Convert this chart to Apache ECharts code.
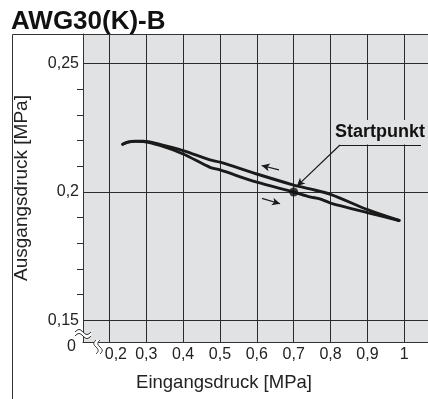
<!DOCTYPE html>
<html>
<head>
<meta charset="utf-8">
<script src="https://cdn.jsdelivr.net/npm/echarts@6/dist/echarts.min.js"></script>
<style>
  html, body { margin: 0; padding: 0; background: #ffffff; }
  #chart { width: 428px; height: 399px; }
</style>
</head>
<body>
<div id="chart"></div>
<script>
// Axis ranges (the lower ends stand for the broken "0" origin)
const X_MIN = 0.1284, X_MAX = 1.0643;
const Y_MIN = 0.1416, Y_MAX = 0.2615;

// Tick values and labels
const xTicks = [0.2, 0.3, 0.4, 0.5, 0.6, 0.7, 0.8, 0.9, 1.0];
const xTickLabels = ['0,2', '0,3', '0,4', '0,5', '0,6', '0,7', '0,8', '0,9', '1'];
const yTicks = [0.15, 0.2, 0.25];
const yTickLabels = ['0,15', '0,2', '0,25'];
const yMinorTicks = [0.16, 0.17, 0.18, 0.19, 0.21, 0.22, 0.23, 0.24];

// Hysteresis loop: pressure rising (lower branch) and falling (upper branch)
const lowerCurve = [
  [0.236, 0.2186], [0.250, 0.2194], [0.270, 0.2197], [0.292, 0.2196],
  [0.337, 0.2181], [0.400, 0.2148], [0.473, 0.2096], [0.500, 0.2086],
  [0.600, 0.2038], [0.700, 0.2000], [0.744, 0.1981], [0.771, 0.1973],
  [0.800, 0.1957], [0.902, 0.1919], [0.986, 0.1889]
];
const upperCurve = [
  [0.236, 0.2186], [0.250, 0.2194], [0.270, 0.2198], [0.292, 0.2198],
  [0.337, 0.2185], [0.400, 0.2161], [0.473, 0.2125], [0.500, 0.2116],
  [0.600, 0.2070], [0.700, 0.2027], [0.744, 0.2012], [0.800, 0.1991],
  [0.902, 0.1930], [0.986, 0.1889]
];
const startPoint = [0.70, 0.200];

// Direction arrows along the branches and the leader for the start label
const arrowFalling = [[0.660, 0.2086], [0.613, 0.2103]];
const arrowRising = [[0.614, 0.1975], [0.663, 0.1954]];
const leaderDiagonal = [[0.8255, 0.2183], [0.7088, 0.2023]];
const leaderUnderline = [[0.8255, 0.2183], [1.0453, 0.2183]];

const PLOT_BG = '#e1e2e4';
const INK = '#222222';
const FONT = '"Liberation Sans", Arial, sans-serif';

function labelFor(value, ticks, labels) {
  for (let i = 0; i < ticks.length; i++) {
    if (Math.abs(ticks[i] - value) < 1e-9) return labels[i];
  }
  return '';
}

// Wavy stroke used for the axis-break marks
function wave(x0, y0, len, amp, horizontal) {
  const pts = [];
  const n = 16;
  for (let i = 0; i <= n; i++) {
    const t = i / n;
    const off = -amp * Math.sin(t * 2 * Math.PI);
    pts.push(horizontal ? [x0 + t * len, y0 + off] : [x0 + off, y0 + t * len]);
  }
  return pts;
}
function band(a, b) {
  return a.concat(b.slice().reverse());
}

const yBreakA = wave(75, 332, 16, 2.5, true);
const yBreakB = wave(75, 336, 16, 2.5, true);
const xBreakA = wave(96, 340, 14, 2.2, false);
const xBreakB = wave(100, 340, 14, 2.2, false);

const chart = echarts.init(document.getElementById('chart'), null, { renderer: 'canvas' });

const gridLineData = xTicks.map(v => ({ xAxis: v })).concat(yTicks.map(v => ({ yAxis: v })));

function segment(pts, endSymbol) {
  return [
    { coord: pts[0], symbol: 'none' },
    { coord: pts[1], symbol: endSymbol }
  ];
}

const option = {
  animation: false,
  backgroundColor: '#ffffff',
  textStyle: { fontFamily: FONT },
  grid: {
    left: 83, top: 34, right: 0, bottom: 57,
    show: true, backgroundColor: PLOT_BG, borderWidth: 0
  },
  xAxis: {
    type: 'value',
    min: X_MIN, max: X_MAX,
    name: 'Eingangsdruck [MPa]',
    nameLocation: 'middle',
    nameGap: 31,
    nameTextStyle: { fontSize: 18.5, color: INK, fontFamily: FONT, padding: [0, 63, 0, 0] },
    axisLine: { show: true, lineStyle: { color: '#333', width: 1 } },
    axisTick: { show: false },
    splitLine: { show: false },
    axisLabel: {
      customValues: xTicks,
      margin: 5,
      fontSize: 16,
      color: INK,
      fontFamily: FONT,
      formatter: v => {
        const t = labelFor(v, xTicks, xTickLabels);
        return Math.abs(v - xTicks[0]) < 1e-9 ? '{s|' + t + '}' : t;
      },
      rich: { s: { fontSize: 16, color: INK, fontFamily: FONT, padding: [0, 0, 0, 13] } }
    }
  },
  yAxis: {
    type: 'value',
    min: Y_MIN, max: Y_MAX,
    name: 'Ausgangsdruck [MPa]',
    nameLocation: 'middle',
    nameGap: 52,
    nameTextStyle: { fontSize: 19, color: INK, fontFamily: FONT },
    axisLine: { show: true, lineStyle: { color: '#333', width: 1 } },
    axisTick: {
      show: true, inside: false, length: 6,
      customValues: yMinorTicks,
      lineStyle: { color: '#333', width: 1 }
    },
    splitLine: { show: false },
    axisLabel: {
      customValues: [Y_MIN].concat(yTicks),
      margin: 4,
      fontSize: 16,
      color: INK,
      fontFamily: FONT,
      formatter: v => Math.abs(v - Y_MIN) < 1e-9 ? '{o|0}' : labelFor(v, yTicks, yTickLabels),
      rich: { o: { fontSize: 16, color: INK, fontFamily: FONT, padding: [9, 3, 0, 0] } }
    }
  },
  series: [
    {
      // grid lines at the labelled values
      type: 'line',
      data: [],
      silent: true,
      markLine: {
        silent: true,
        z: 1,
        symbol: ['none', 'none'],
        label: { show: false },
        lineStyle: { color: '#2b2b2b', width: 1, type: 'solid' },
        emphasis: { disabled: true },
        data: gridLineData
      }
    },
    {
      name: 'steigend',
      type: 'line',
      z: 3,
      data: lowerCurve,
      smooth: 0.3,
      showSymbol: false,
      lineStyle: { color: '#1a1a1a', width: 2.9, cap: 'round' }
    },
    {
      name: 'fallend',
      type: 'line',
      z: 3,
      data: upperCurve,
      smooth: 0.3,
      showSymbol: false,
      lineStyle: { color: '#1a1a1a', width: 2.9, cap: 'round' }
    },
    {
      name: 'Startpunkt',
      type: 'scatter',
      z: 4,
      data: [startPoint],
      symbol: 'circle',
      symbolSize: 9,
      itemStyle: { color: '#111' },
      markLine: {
        silent: true,
        z: 6,
        label: { show: false },
        symbolSize: [6, 8],
        lineStyle: { color: '#1a1a1a', width: 1.2, type: 'solid' },
        emphasis: { disabled: true },
        data: [
          segment(arrowFalling, 'arrow'),
          segment(arrowRising, 'arrow'),
          segment(leaderDiagonal, 'arrow'),
          segment(leaderUnderline, 'none')
        ]
      }
    }
  ],
  graphic: [
    // title
    {
      type: 'text', left: 11, top: 9, z: 10,
      style: { text: 'AWG30(K)-B', font: 'bold 26px ' + FONT, fill: '#111' }
    },
    // outer frame
    {
      type: 'polyline', z: 10, silent: true,
      shape: { points: [[12.5, 399], [12.5, 34.5], [428, 34.5]] },
      style: { stroke: '#333', lineWidth: 1, fill: null }
    },
    // label box for the start point
    {
      type: 'rect', z: 5, silent: true,
      shape: { x: 333, y: 120, width: 95, height: 24.5 },
      style: { fill: PLOT_BG }
    },
    {
      type: 'text', z: 6, silent: true,
      x: 380, y: 132,
      style: {
        text: 'Startpunkt', font: 'bold 18px ' + FONT, fill: '#111',
        align: 'center', verticalAlign: 'middle'
      }
    },
    // break on the y axis
    { type: 'polygon', z: 10, silent: true, shape: { points: band(yBreakA, yBreakB) }, style: { fill: '#ffffff' } },
    { type: 'polyline', z: 11, silent: true, shape: { points: yBreakA }, style: { stroke: '#333', lineWidth: 1, fill: null } },
    { type: 'polyline', z: 11, silent: true, shape: { points: yBreakB }, style: { stroke: '#333', lineWidth: 1, fill: null } },
    // break on the x axis
    { type: 'polygon', z: 10, silent: true, shape: { points: band(xBreakA, xBreakB) }, style: { fill: '#ffffff' } },
    { type: 'polyline', z: 11, silent: true, shape: { points: xBreakA }, style: { stroke: '#333', lineWidth: 1, fill: null } },
    { type: 'polyline', z: 11, silent: true, shape: { points: xBreakB }, style: { stroke: '#333', lineWidth: 1, fill: null } }
  ]
};

chart.setOption(option);
</script>
</body>
</html>
